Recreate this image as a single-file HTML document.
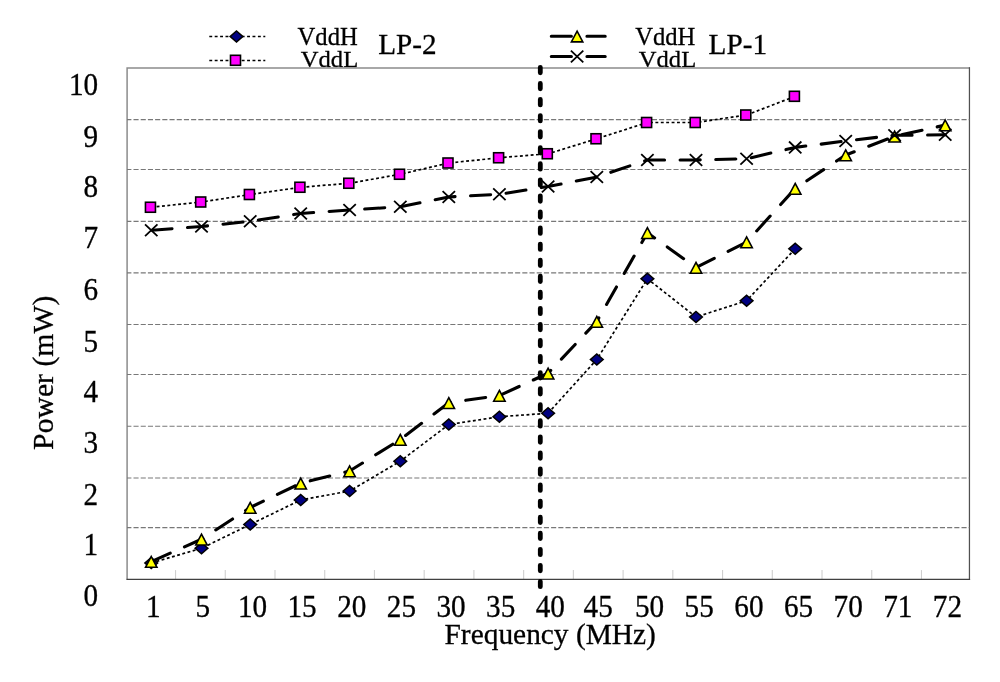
<!DOCTYPE html>
<html><head><meta charset="utf-8"><title>Power vs Frequency</title>
<style>html,body{margin:0;padding:0;background:#fff;}body{width:1000px;height:682px;overflow:hidden;}svg{display:block;}text{font-family:"Liberation Serif",serif;fill:#000;stroke:#000;stroke-width:0.3px;}.t{filter:grayscale(1);}</style></head><body>
<svg width="1000" height="682" viewBox="0 0 1000 682">
<rect width="1000" height="682" fill="#fff"/>
<g class="t" font-size="24.6">
<text x="297.6" y="45.3">VddH</text><text transform="translate(300.8,67.0) scale(1,0.95)">VddL</text>
<text x="635.2" y="45.3">VddH</text><text transform="translate(638.8,67.0) scale(1,0.95)">VddL</text>
</g>
<g class="t" font-size="29.2"><text x="378.2" y="54.4">LP-2</text><text x="708.6" y="54.4">LP-1</text></g>
<rect x="127.0" y="68.0" width="842.4" height="511.29999999999995" fill="#fff"/>
<path d="M127.1 580V67.9H970" fill="none" stroke="#8c8c8c" stroke-width="1.5"/>
<path d="M969.45 67.2V579.9" fill="none" stroke="#505050" stroke-width="1.25"/>
<line x1="127.0" y1="119.55" x2="969.4" y2="119.55" stroke="#787878" stroke-width="1.2" stroke-dasharray="5.1 2.1" stroke-dashoffset="0.7"/>
<line x1="127.0" y1="169.5" x2="969.4" y2="169.5" stroke="#787878" stroke-width="1.2" stroke-dasharray="5.1 2.1" stroke-dashoffset="0.7"/>
<line x1="127.0" y1="221.4" x2="969.4" y2="221.4" stroke="#787878" stroke-width="1.2" stroke-dasharray="5.1 2.1" stroke-dashoffset="0.7"/>
<line x1="127.0" y1="272.9" x2="969.4" y2="272.9" stroke="#787878" stroke-width="1.2" stroke-dasharray="5.1 2.1" stroke-dashoffset="0.7"/>
<line x1="127.0" y1="324.5" x2="969.4" y2="324.5" stroke="#787878" stroke-width="1.2" stroke-dasharray="5.1 2.1" stroke-dashoffset="0.7"/>
<line x1="127.0" y1="374.5" x2="969.4" y2="374.5" stroke="#787878" stroke-width="1.2" stroke-dasharray="5.1 2.1" stroke-dashoffset="0.7"/>
<line x1="127.0" y1="426.25" x2="969.4" y2="426.25" stroke="#787878" stroke-width="1.2" stroke-dasharray="5.1 2.1" stroke-dashoffset="0.7"/>
<line x1="127.0" y1="478.0" x2="969.4" y2="478.0" stroke="#787878" stroke-width="1.2" stroke-dasharray="5.1 2.1" stroke-dashoffset="0.7"/>
<line x1="127.0" y1="527.7" x2="969.4" y2="527.7" stroke="#787878" stroke-width="1.2" stroke-dasharray="5.1 2.1" stroke-dashoffset="0.7"/>
<line x1="175.53" y1="570.0999999999999" x2="175.53" y2="579.3" stroke="#cfcfcf" stroke-width="1.1"/>
<line x1="225.26" y1="570.0999999999999" x2="225.26" y2="579.3" stroke="#cfcfcf" stroke-width="1.1"/>
<line x1="274.99" y1="570.0999999999999" x2="274.99" y2="579.3" stroke="#cfcfcf" stroke-width="1.1"/>
<line x1="324.72" y1="570.0999999999999" x2="324.72" y2="579.3" stroke="#cfcfcf" stroke-width="1.1"/>
<line x1="374.45" y1="570.0999999999999" x2="374.45" y2="579.3" stroke="#cfcfcf" stroke-width="1.1"/>
<line x1="424.18" y1="570.0999999999999" x2="424.18" y2="579.3" stroke="#cfcfcf" stroke-width="1.1"/>
<line x1="473.91" y1="570.0999999999999" x2="473.91" y2="579.3" stroke="#cfcfcf" stroke-width="1.1"/>
<line x1="523.64" y1="570.0999999999999" x2="523.64" y2="579.3" stroke="#cfcfcf" stroke-width="1.1"/>
<line x1="573.37" y1="570.0999999999999" x2="573.37" y2="579.3" stroke="#cfcfcf" stroke-width="1.1"/>
<line x1="623.10" y1="570.0999999999999" x2="623.10" y2="579.3" stroke="#cfcfcf" stroke-width="1.1"/>
<line x1="672.83" y1="570.0999999999999" x2="672.83" y2="579.3" stroke="#cfcfcf" stroke-width="1.1"/>
<line x1="722.56" y1="570.0999999999999" x2="722.56" y2="579.3" stroke="#cfcfcf" stroke-width="1.1"/>
<line x1="772.29" y1="570.0999999999999" x2="772.29" y2="579.3" stroke="#cfcfcf" stroke-width="1.1"/>
<line x1="822.02" y1="570.0999999999999" x2="822.02" y2="579.3" stroke="#cfcfcf" stroke-width="1.1"/>
<line x1="871.75" y1="570.0999999999999" x2="871.75" y2="579.3" stroke="#cfcfcf" stroke-width="1.1"/>
<line x1="921.48" y1="570.0999999999999" x2="921.48" y2="579.3" stroke="#cfcfcf" stroke-width="1.1"/>
<line x1="126.6" y1="579.35" x2="970.1" y2="579.35" stroke="#404040" stroke-width="1.25"/>
<line x1="540.3" y1="67.36" x2="540.3" y2="586.7" stroke="#000" stroke-width="4.8" stroke-dasharray="5.4 10.664" stroke-linecap="round"/>
<polyline points="151.25,563.00 201.50,548.25 250.20,524.50 300.70,500.00 349.60,491.00 400.30,461.25 448.80,424.50 499.40,416.75 548.10,413.25 596.80,359.50 647.40,278.75 696.00,317.00 746.60,300.75 795.20,248.75" stroke="#000" stroke-width="1.7" stroke-dasharray="2.9 2.5" fill="none"/>
<path d="M151.25 557.50L157.55 563.00L151.25 568.50L144.95 563.00Z" fill="#000080" stroke="#000" stroke-width="1.6" stroke-linejoin="miter"/>
<path d="M201.50 542.75L207.80 548.25L201.50 553.75L195.20 548.25Z" fill="#000080" stroke="#000" stroke-width="1.6" stroke-linejoin="miter"/>
<path d="M250.20 519.00L256.50 524.50L250.20 530.00L243.90 524.50Z" fill="#000080" stroke="#000" stroke-width="1.6" stroke-linejoin="miter"/>
<path d="M300.70 494.50L307.00 500.00L300.70 505.50L294.40 500.00Z" fill="#000080" stroke="#000" stroke-width="1.6" stroke-linejoin="miter"/>
<path d="M349.60 485.50L355.90 491.00L349.60 496.50L343.30 491.00Z" fill="#000080" stroke="#000" stroke-width="1.6" stroke-linejoin="miter"/>
<path d="M400.30 455.75L406.60 461.25L400.30 466.75L394.00 461.25Z" fill="#000080" stroke="#000" stroke-width="1.6" stroke-linejoin="miter"/>
<path d="M448.80 419.00L455.10 424.50L448.80 430.00L442.50 424.50Z" fill="#000080" stroke="#000" stroke-width="1.6" stroke-linejoin="miter"/>
<path d="M499.40 411.25L505.70 416.75L499.40 422.25L493.10 416.75Z" fill="#000080" stroke="#000" stroke-width="1.6" stroke-linejoin="miter"/>
<path d="M548.10 407.75L554.40 413.25L548.10 418.75L541.80 413.25Z" fill="#000080" stroke="#000" stroke-width="1.6" stroke-linejoin="miter"/>
<path d="M596.80 354.00L603.10 359.50L596.80 365.00L590.50 359.50Z" fill="#000080" stroke="#000" stroke-width="1.6" stroke-linejoin="miter"/>
<path d="M647.40 273.25L653.70 278.75L647.40 284.25L641.10 278.75Z" fill="#000080" stroke="#000" stroke-width="1.6" stroke-linejoin="miter"/>
<path d="M696.00 311.50L702.30 317.00L696.00 322.50L689.70 317.00Z" fill="#000080" stroke="#000" stroke-width="1.6" stroke-linejoin="miter"/>
<path d="M746.60 295.25L752.90 300.75L746.60 306.25L740.30 300.75Z" fill="#000080" stroke="#000" stroke-width="1.6" stroke-linejoin="miter"/>
<path d="M795.20 243.25L801.50 248.75L795.20 254.25L788.90 248.75Z" fill="#000080" stroke="#000" stroke-width="1.6" stroke-linejoin="miter"/>
<polyline points="151.25,207.25 201.50,202.00 250.20,194.50 300.70,187.25 349.60,183.25 400.30,174.25 448.80,163.00 499.40,157.75 548.10,153.75 596.80,138.75 647.40,122.50 696.00,122.50 746.60,115.00 795.20,96.30" stroke="#000" stroke-width="1.7" stroke-dasharray="2.9 2.5" fill="none"/>
<rect x="145.45" y="202.25" width="10.00" height="10.00" fill="#ff00ff" stroke="#000" stroke-width="1.6"/>
<rect x="195.70" y="197.00" width="10.00" height="10.00" fill="#ff00ff" stroke="#000" stroke-width="1.6"/>
<rect x="244.40" y="189.50" width="10.00" height="10.00" fill="#ff00ff" stroke="#000" stroke-width="1.6"/>
<rect x="294.90" y="182.25" width="10.00" height="10.00" fill="#ff00ff" stroke="#000" stroke-width="1.6"/>
<rect x="343.80" y="178.25" width="10.00" height="10.00" fill="#ff00ff" stroke="#000" stroke-width="1.6"/>
<rect x="394.50" y="169.25" width="10.00" height="10.00" fill="#ff00ff" stroke="#000" stroke-width="1.6"/>
<rect x="443.00" y="158.00" width="10.00" height="10.00" fill="#ff00ff" stroke="#000" stroke-width="1.6"/>
<rect x="493.60" y="152.75" width="10.00" height="10.00" fill="#ff00ff" stroke="#000" stroke-width="1.6"/>
<rect x="542.30" y="148.75" width="10.00" height="10.00" fill="#ff00ff" stroke="#000" stroke-width="1.6"/>
<rect x="591.00" y="133.75" width="10.00" height="10.00" fill="#ff00ff" stroke="#000" stroke-width="1.6"/>
<rect x="641.60" y="117.50" width="10.00" height="10.00" fill="#ff00ff" stroke="#000" stroke-width="1.6"/>
<rect x="690.20" y="117.50" width="10.00" height="10.00" fill="#ff00ff" stroke="#000" stroke-width="1.6"/>
<rect x="740.80" y="110.00" width="10.00" height="10.00" fill="#ff00ff" stroke="#000" stroke-width="1.6"/>
<rect x="789.40" y="91.30" width="10.00" height="10.00" fill="#ff00ff" stroke="#000" stroke-width="1.6"/>
<polyline points="151.25,561.60 201.50,539.25 250.20,507.50 300.70,483.25 349.60,471.00 400.30,439.50 448.80,402.75 499.40,395.50 548.10,373.25 596.80,321.50 647.40,232.75 696.00,267.50 746.60,242.00 795.20,188.50 845.70,155.00 894.60,136.30 945.20,125.10" stroke="#000" stroke-width="3.1" stroke-dasharray="20.1 15.55" stroke-dashoffset="-0.7" stroke-linecap="round" stroke-linejoin="round" fill="none"/>
<path d="M151.25 556.50L156.95 567.30L145.55 567.30Z" fill="#ffff00" stroke="#000" stroke-width="1.6" stroke-linejoin="miter"/>
<path d="M201.50 534.15L207.20 544.95L195.80 544.95Z" fill="#ffff00" stroke="#000" stroke-width="1.6" stroke-linejoin="miter"/>
<path d="M250.20 502.40L255.90 513.20L244.50 513.20Z" fill="#ffff00" stroke="#000" stroke-width="1.6" stroke-linejoin="miter"/>
<path d="M300.70 478.15L306.40 488.95L295.00 488.95Z" fill="#ffff00" stroke="#000" stroke-width="1.6" stroke-linejoin="miter"/>
<path d="M349.60 465.90L355.30 476.70L343.90 476.70Z" fill="#ffff00" stroke="#000" stroke-width="1.6" stroke-linejoin="miter"/>
<path d="M400.30 434.40L406.00 445.20L394.60 445.20Z" fill="#ffff00" stroke="#000" stroke-width="1.6" stroke-linejoin="miter"/>
<path d="M448.80 397.65L454.50 408.45L443.10 408.45Z" fill="#ffff00" stroke="#000" stroke-width="1.6" stroke-linejoin="miter"/>
<path d="M499.40 390.40L505.10 401.20L493.70 401.20Z" fill="#ffff00" stroke="#000" stroke-width="1.6" stroke-linejoin="miter"/>
<path d="M548.10 368.15L553.80 378.95L542.40 378.95Z" fill="#ffff00" stroke="#000" stroke-width="1.6" stroke-linejoin="miter"/>
<path d="M596.80 316.40L602.50 327.20L591.10 327.20Z" fill="#ffff00" stroke="#000" stroke-width="1.6" stroke-linejoin="miter"/>
<path d="M647.40 227.65L653.10 238.45L641.70 238.45Z" fill="#ffff00" stroke="#000" stroke-width="1.6" stroke-linejoin="miter"/>
<path d="M696.00 262.40L701.70 273.20L690.30 273.20Z" fill="#ffff00" stroke="#000" stroke-width="1.6" stroke-linejoin="miter"/>
<path d="M746.60 236.90L752.30 247.70L740.90 247.70Z" fill="#ffff00" stroke="#000" stroke-width="1.6" stroke-linejoin="miter"/>
<path d="M795.20 183.40L800.90 194.20L789.50 194.20Z" fill="#ffff00" stroke="#000" stroke-width="1.6" stroke-linejoin="miter"/>
<path d="M845.70 149.90L851.40 160.70L840.00 160.70Z" fill="#ffff00" stroke="#000" stroke-width="1.6" stroke-linejoin="miter"/>
<path d="M894.60 131.20L900.30 142.00L888.90 142.00Z" fill="#ffff00" stroke="#000" stroke-width="1.6" stroke-linejoin="miter"/>
<path d="M945.20 120.00L950.90 130.80L939.50 130.80Z" fill="#ffff00" stroke="#000" stroke-width="1.6" stroke-linejoin="miter"/>
<polyline points="151.25,230.25 201.50,226.50 250.20,221.25 300.70,213.50 349.60,210.00 400.30,206.75 448.80,197.00 499.40,194.25 548.10,186.50 596.80,177.00 647.40,160.00 696.00,160.00 746.60,158.75 795.20,147.40 845.70,141.00 894.60,135.30 945.20,134.80" stroke="#000" stroke-width="3.1" stroke-dasharray="20.1 15.55" stroke-dashoffset="-0.7" stroke-linecap="round" stroke-linejoin="round" fill="none"/>
<path d="M145.05 224.35L157.45 236.15M145.05 236.15L157.45 224.35" stroke="#000" stroke-width="1.8" fill="none"/>
<path d="M195.30 220.60L207.70 232.40M195.30 232.40L207.70 220.60" stroke="#000" stroke-width="1.8" fill="none"/>
<path d="M244.00 215.35L256.40 227.15M244.00 227.15L256.40 215.35" stroke="#000" stroke-width="1.8" fill="none"/>
<path d="M294.50 207.60L306.90 219.40M294.50 219.40L306.90 207.60" stroke="#000" stroke-width="1.8" fill="none"/>
<path d="M343.40 204.10L355.80 215.90M343.40 215.90L355.80 204.10" stroke="#000" stroke-width="1.8" fill="none"/>
<path d="M394.10 200.85L406.50 212.65M394.10 212.65L406.50 200.85" stroke="#000" stroke-width="1.8" fill="none"/>
<path d="M442.60 191.10L455.00 202.90M442.60 202.90L455.00 191.10" stroke="#000" stroke-width="1.8" fill="none"/>
<path d="M493.20 188.35L505.60 200.15M493.20 200.15L505.60 188.35" stroke="#000" stroke-width="1.8" fill="none"/>
<path d="M541.90 180.60L554.30 192.40M541.90 192.40L554.30 180.60" stroke="#000" stroke-width="1.8" fill="none"/>
<path d="M590.60 171.10L603.00 182.90M590.60 182.90L603.00 171.10" stroke="#000" stroke-width="1.8" fill="none"/>
<path d="M641.20 154.10L653.60 165.90M641.20 165.90L653.60 154.10" stroke="#000" stroke-width="1.8" fill="none"/>
<path d="M689.80 154.10L702.20 165.90M689.80 165.90L702.20 154.10" stroke="#000" stroke-width="1.8" fill="none"/>
<path d="M740.40 152.85L752.80 164.65M740.40 164.65L752.80 152.85" stroke="#000" stroke-width="1.8" fill="none"/>
<path d="M789.00 141.50L801.40 153.30M789.00 153.30L801.40 141.50" stroke="#000" stroke-width="1.8" fill="none"/>
<path d="M839.50 135.10L851.90 146.90M839.50 146.90L851.90 135.10" stroke="#000" stroke-width="1.8" fill="none"/>
<path d="M888.40 129.40L900.80 141.20M888.40 141.20L900.80 129.40" stroke="#000" stroke-width="1.8" fill="none"/>
<path d="M939.00 128.90L951.40 140.70M939.00 140.70L951.40 128.90" stroke="#000" stroke-width="1.8" fill="none"/>
<line x1="209.3" y1="36.5" x2="265.3" y2="36.5" stroke="#000" stroke-width="1.7" stroke-dasharray="2.9 2.5" fill="none"/><path d="M236.50 31.00L242.80 36.50L236.50 42.00L230.20 36.50Z" fill="#000080" stroke="#000" stroke-width="1.6" stroke-linejoin="miter"/>
<line x1="209.3" y1="60.5" x2="265.3" y2="60.5" stroke="#000" stroke-width="1.7" stroke-dasharray="2.9 2.5" fill="none"/><rect x="230.50" y="55.30" width="10.00" height="10.00" fill="#ff00ff" stroke="#000" stroke-width="1.6"/>
<line x1="550.6" y1="36.2" x2="605.2" y2="36.2" stroke="#000" stroke-width="3.1" stroke-dasharray="20.1 15.55" stroke-dashoffset="-0.7" stroke-linecap="round" stroke-linejoin="round" fill="none"/><path d="M577.10 31.10L582.80 41.90L571.40 41.90Z" fill="#ffff00" stroke="#000" stroke-width="1.6" stroke-linejoin="miter"/>
<line x1="550.6" y1="56.5" x2="605.2" y2="56.5" stroke="#000" stroke-width="3.1" stroke-dasharray="20.1 15.55" stroke-dashoffset="-0.7" stroke-linecap="round" stroke-linejoin="round" fill="none"/><path d="M570.90 50.60L583.30 62.40M570.90 62.40L583.30 50.60" stroke="#000" stroke-width="1.8" fill="none"/>
<g class="t" font-size="29.2" text-anchor="end">
<text transform="translate(98.2,95.0) scale(1,1.10)">10</text>
<text transform="translate(98.2,146.6) scale(1,1.10)">9</text>
<text transform="translate(98.2,196.5) scale(1,1.10)">8</text>
<text transform="translate(98.2,248.4) scale(1,1.10)">7</text>
<text transform="translate(98.2,299.9) scale(1,1.10)">6</text>
<text transform="translate(98.2,351.5) scale(1,1.10)">5</text>
<text transform="translate(98.2,401.5) scale(1,1.10)">4</text>
<text transform="translate(98.2,453.2) scale(1,1.10)">3</text>
<text transform="translate(98.2,505.0) scale(1,1.10)">2</text>
<text transform="translate(98.2,554.7) scale(1,1.10)">1</text>
<text transform="translate(98.2,606.3) scale(1,1.10)">0</text>
</g>
<g class="t" font-size="29.2" text-anchor="middle">
<text transform="translate(153.2,617) scale(1,1.10)">1</text>
<text transform="translate(202.8,617) scale(1,1.10)">5</text>
<text transform="translate(252.5,617) scale(1,1.10)">10</text>
<text transform="translate(302.1,617) scale(1,1.10)">15</text>
<text transform="translate(351.8,617) scale(1,1.10)">20</text>
<text transform="translate(401.4,617) scale(1,1.10)">25</text>
<text transform="translate(451.0,617) scale(1,1.10)">30</text>
<text transform="translate(500.7,617) scale(1,1.10)">35</text>
<text transform="translate(550.3,617) scale(1,1.10)">40</text>
<text transform="translate(598.2,617) scale(1,1.10)">45</text>
<text transform="translate(649.6,617) scale(1,1.10)">50</text>
<text transform="translate(699.2,617) scale(1,1.10)">55</text>
<text transform="translate(748.9,617) scale(1,1.10)">60</text>
<text transform="translate(798.5,617) scale(1,1.10)">65</text>
<text transform="translate(848.2,617) scale(1,1.10)">70</text>
<text transform="translate(897.8,617) scale(1,1.10)">71</text>
<text transform="translate(947.4,617) scale(1,1.10)">72</text>
</g>
<text class="t" transform="translate(550.2,644) scale(1,1.0)" font-size="29.4" text-anchor="middle">Frequency (MHz)</text>
<text class="t" transform="translate(53.2,372.8) rotate(-90)" font-size="29.7" text-anchor="middle">Power (mW)</text>
</svg></body></html>
